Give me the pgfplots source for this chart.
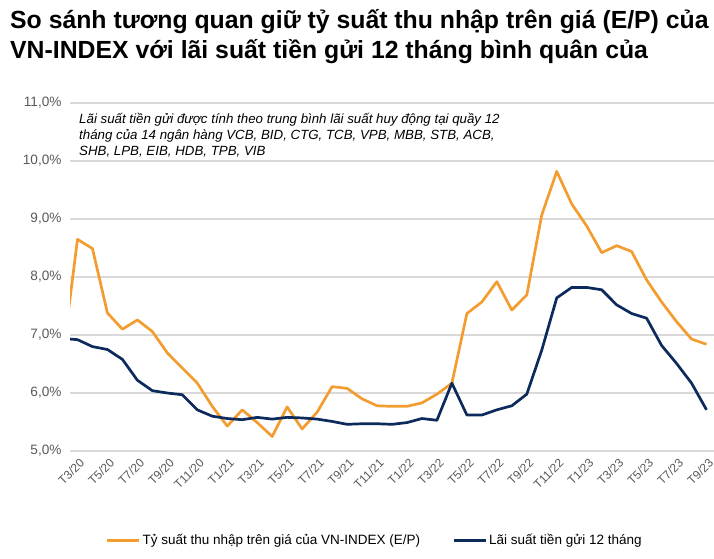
\documentclass[border=0pt]{standalone}
\usepackage{pgfplots}
\pgfplotsset{compat=1.18}
\usepackage{pgfplotstable}
\usepackage{fontspec}
\setmainfont{Liberation Sans}

\definecolor{epOrange}{HTML}{F39C2F}
\definecolor{depNavy}{HTML}{0C2A5B}
\definecolor{gridGray}{HTML}{D9D9D9}
\definecolor{labGray}{HTML}{595959}

% month index (0 = T3/20), E/P of VN-INDEX, 12m deposit rate (%)
\pgfplotstableread{
idx ep dep
-1 6.60 6.94
0 8.65 6.92
1 8.49 6.80
2 7.38 6.75
3 7.10 6.58
4 7.26 6.22
5 7.06 6.04
6 6.69 6.00
7 6.43 5.97
8 6.17 5.71
9 5.77 5.60
10 5.43 5.56
11 5.71 5.54
12 5.49 5.58
13 5.25 5.55
14 5.76 5.58
15 5.38 5.57
16 5.67 5.55
17 6.11 5.51
18 6.08 5.46
19 5.90 5.47
20 5.78 5.47
21 5.77 5.46
22 5.77 5.49
23 5.83 5.56
24 5.98 5.53
25 6.17 6.17
26 7.37 5.62
27 7.57 5.62
28 7.92 5.71
29 7.43 5.78
30 7.69 5.98
31 9.07 6.74
32 9.82 7.64
33 9.26 7.82
34 8.88 7.82
35 8.42 7.78
36 8.54 7.52
37 8.44 7.37
38 7.95 7.29
39 7.57 6.82
40 7.23 6.51
41 6.93 6.17
42 6.84 5.71
}\datatable

\begin{document}
\begin{tikzpicture}
\useasboundingbox (-70pt,-107pt) rectangle (644pt,451pt);

\node[anchor=base west, font=\fontsize{24.8}{29}\selectfont\bfseries, inner sep=0pt]
  at (-60pt,422pt) {So sánh tương quan giữ tỷ suất thu nhập trên giá (E/P) của};
\node[anchor=base west, font=\fontsize{24.8}{29}\selectfont\bfseries, inner sep=0pt]
  at (-60pt,392pt) {VN-INDEX với lãi suất tiền gửi 12 tháng bình quân của};

\begin{axis}[
    scale only axis,
    width=644pt, height=348pt,
    xmin=-0.5, xmax=42.5,
    ymin=5, ymax=11,
    clip=true,
    axis line style={draw=none},
    major tick style={draw=none},
    ymajorgrids,
    grid style={gridGray, line width=1.1pt},
    ytick={5,6,7,8,9,10,11},
    yticklabels={{5,0\%},{6,0\%},{7,0\%},{8,0\%},{9,0\%},{10,0\%},{11,0\%}},
    yticklabel style={font=\fontsize{13.6}{14}\selectfont, text=labGray, xshift=-5pt},
    xtick={0,2,...,42},
    xticklabels={T3/20,T5/20,T7/20,T9/20,T11/20,T1/21,T3/21,T5/21,T7/21,T9/21,T11/21,
                 T1/22,T3/22,T5/22,T7/22,T9/22,T11/22,T1/23,T3/23,T5/23,T7/23,T9/23},
    xticklabel style={font=\fontsize{12}{12}\selectfont, text=labGray, rotate=45, anchor=east, xshift=0pt, yshift=-10pt},
    legend columns=2,
    legend style={at={(0.473,-0.256)}, anchor=center, draw=none, fill=none,
                  font=\fontsize{13.5}{14}\selectfont, text=black,
                  /tikz/every even column/.append style={column sep=30pt}},
    legend image code/.code={\draw[#1, line width=3pt] (0pt,0pt) -- (32pt,0pt);},
  ]
  \addplot[epOrange, line width=2.7pt, line join=round] table[x=idx, y=ep] {\datatable};
  \addlegendentry{Tỷ suất thu nhập trên giá của VN-INDEX (E/P)}
  \addplot[depNavy, line width=2.7pt, line join=round] table[x=idx, y=dep] {\datatable};
  \addlegendentry{Lãi suất tiền gửi 12 tháng}

  \node[anchor=base west, font=\fontsize{13.3}{16}\selectfont\itshape, inner sep=0pt]
    at (rel axis cs:0.014,0.94) {Lãi suất tiền gửi được tính theo trung bình lãi suất huy động tại quầy 12};
  \node[anchor=base west, font=\fontsize{13.3}{16}\selectfont\itshape, inner sep=0pt]
    at (rel axis cs:0.014,0.894) {tháng của 14 ngân hàng VCB, BID, CTG, TCB, VPB, MBB, STB, ACB,};
  \node[anchor=base west, font=\fontsize{13.3}{16}\selectfont\itshape, inner sep=0pt]
    at (rel axis cs:0.014,0.848) {SHB, LPB, EIB, HDB, TPB, VIB};
\end{axis}
\end{tikzpicture}
\end{document}
